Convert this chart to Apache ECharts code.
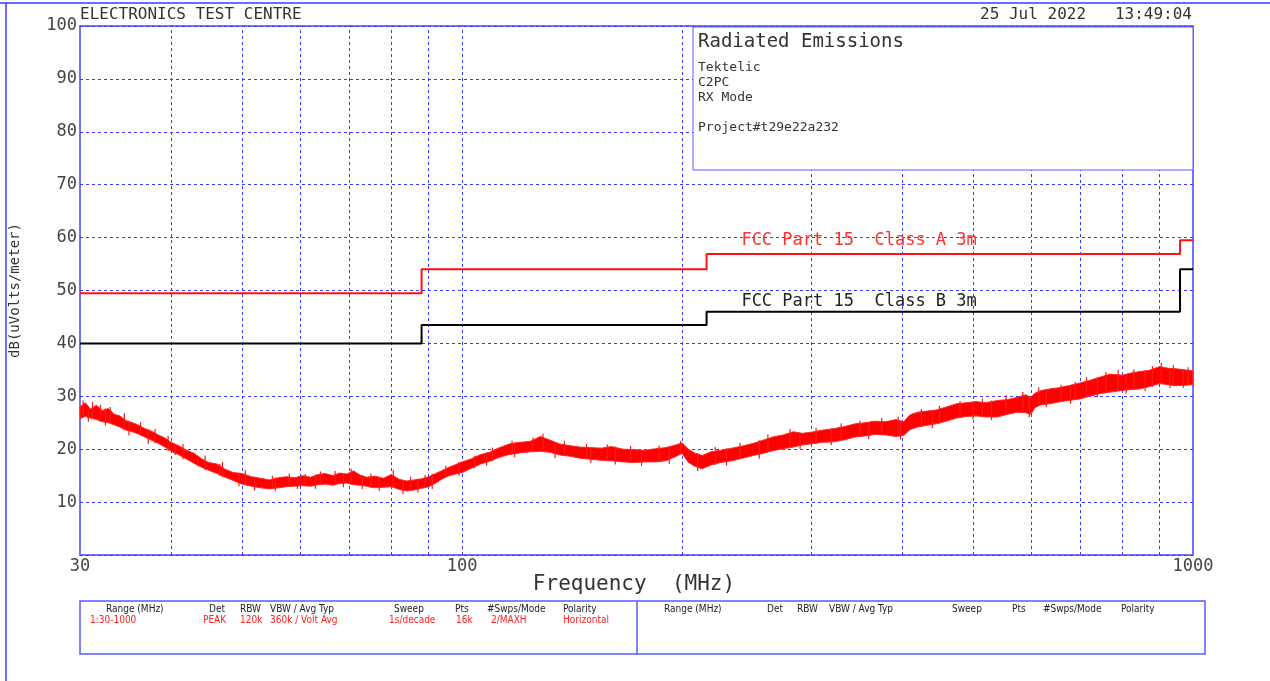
<!DOCTYPE html>
<html>
<head>
<meta charset="utf-8">
<script src="https://cdn.jsdelivr.net/npm/echarts@6/dist/echarts.min.js"></script>
<style>html,body{margin:0;padding:0;background:#fff}#c{width:1270px;height:681px}</style>
</head>
<body>
<div id="c"></div>
<script>
// ---------- data ----------
const yTicks = [0,10,20,30,40,50,60,70,80,90,100];
const xTickLabels = [30, 100, 1000];
const vGridFreq = [40,50,60,70,80,90,100,200,300,400,500,600,700,800,900];

const classAFreq  = [30, 88, 216, 960, 1000];
const classALevel = [49.5, 54, 56.9, 59.5, 59.5];
const classBFreq  = [30, 88, 216, 960, 1000];
const classBLevel = [40, 43.5, 46, 54, 54];

// measured trace: lower / upper envelope of the peak-hold noise
const traceFreq = [30,30.5,31,31.6,32.2,32.8,33.4,34,34.7,35.4,36,36.8,37.6,38.4,39.2,40,41,42,43,44,45,46.2,47.4,48.6,50,51.5,53,54.5,56,57.5,59,60.5,62,63.5,65,66.5,68,69.5,71,72.5,74,76,78,80,82,84,86,88,90,92,94,96,98,100,103,106,109,112,116,120,124,128,132,136,140,145,150,155,160,166,172,178,184,190,196,200,204,208,213,219,226,234,242,250,258,266,275,284,292,300,311,323,334,345,356,367,380,392,402,410,420,432,445,460,475,490,505,520,540,558,575,590,600,608,620,637,654,675,700,722,745,770,800,823,846,870,900,925,948,975,1000];
const traceLow  = [25.8,26.2,25.9,25.6,25.2,25.0,24.6,24.2,23.6,23.3,22.9,22.3,21.7,21.1,20.4,19.6,18.9,18.1,17.3,16.6,16.0,15.4,14.7,14.1,13.4,13.0,12.7,12.5,12.7,12.9,13.0,13.1,13.0,13.3,13.4,13.2,13.5,13.6,13.3,13.2,13.0,12.7,12.8,12.9,12.4,12.1,12.3,12.6,12.9,13.6,14.4,15.0,15.3,15.6,16.4,17.2,17.7,18.4,19.0,19.3,19.5,19.6,19.4,18.9,18.7,18.3,18.1,17.9,17.8,17.6,17.5,17.6,17.6,17.8,18.6,19.2,17.5,16.8,16.3,17.0,17.5,17.8,18.3,18.8,19.2,19.7,20.1,20.4,20.8,21.0,21.3,21.4,21.8,22.3,22.5,22.8,22.7,22.4,22.6,23.7,24.2,24.5,24.8,25.3,25.9,26.2,26.3,26.1,26.1,26.6,27.0,26.9,26.6,27.9,28.4,28.6,28.9,29.2,29.5,30.0,30.5,30.8,31.1,31.3,31.4,31.8,32.4,32.2,32.0,32.1,32.2];
const traceHigh = [28.0,28.8,27.6,28.3,27.3,27.7,26.6,26.3,25.4,25.0,24.6,23.9,23.4,22.7,22.1,21.3,20.6,19.8,19.2,18.2,17.5,17.2,16.2,15.6,15.4,14.8,14.5,14.2,14.6,14.8,14.6,15.0,14.7,15.2,15.4,15.0,15.5,15.3,15.9,15.1,14.7,14.9,14.5,15.2,14.3,14.0,14.2,14.4,14.8,15.4,16.0,16.6,17.1,17.6,18.2,19.0,19.4,20.2,21.0,21.3,21.5,22.4,21.7,21.0,20.7,20.4,20.3,20.2,20.5,20.0,19.9,19.8,20.1,20.3,20.8,21.2,20.0,19.3,18.8,19.5,19.8,20.2,20.6,21.1,21.7,22.3,22.7,23.3,23.0,23.2,23.6,23.9,24.3,24.8,25.0,25.3,25.2,25.6,25.2,26.5,27.0,27.2,27.4,28.0,28.6,28.8,29.0,28.8,29.2,29.4,29.8,30.3,29.8,30.6,31.1,31.4,31.6,32.0,32.5,33.0,33.6,34.2,34.0,34.4,34.7,34.9,35.6,35.3,35.2,35.0,34.8];

// individual noise spikes reaching outside the envelope
const spikeUpFreq = [30.3,31.2,32,33,34.5,36.3,38,39.6,41.5,44.5,47,50.5,55,58,61,64,67,70.5,75,80.5,85,89,95,104,110,117,125,129,138,148,158,170,186,199,222,240,262,281,305,330,350,375,395,425,450,480,515,555,585,615,660,690,715,760,790,830,880,905,940,985];
const spikeUpVal  = [29.2,28.9,28.4,28.0,26.8,25.1,23.8,22.5,21.0,18.8,17.6,16.0,15.0,15.4,15.3,15.8,15.9,16.3,15.4,16.0,14.8,15.1,16.9,18.8,20.3,21.6,22.2,22.9,21.6,21.0,20.9,20.6,20.7,21.6,20.4,21.2,22.8,23.8,24.0,24.9,25.4,25.9,26.2,27.6,28.2,29.1,29.6,30.2,30.8,31.7,32.2,32.7,33.6,34.6,35.0,35.1,35.7,36.3,35.9,35.5];
const spikeDnFreq = [30.8,32.5,35,37.2,40.5,43.5,46.6,49.5,52,55.5,59.5,63,68.8,73,77,83,87,91,99,108,118,134,150,162,176,192,210,230,255,290,320,360,398,440,500,530,597,630,680,740,810,860,930,970];
const spikeDnVal  = [25.2,24.5,22.6,21.0,18.9,16.8,15.0,13.0,12.2,12.1,12.5,12.5,12.8,12.5,12.1,11.5,11.8,12.5,15.0,16.9,18.5,18.3,17.4,17.1,16.8,17.2,15.9,16.9,18.2,20.1,20.8,21.9,21.8,24.0,25.6,25.5,26.0,28.0,28.6,29.8,30.5,31.0,31.5,31.6];

// ---------- build ----------
const limitA = classAFreq.map((f,i)=>[f, classALevel[i]]);
const limitB = classBFreq.map((f,i)=>[f, classBLevel[i]]);
const bandData = traceFreq.map((f,i)=>[f, traceLow[i], traceHigh[i]]);
function nearestIdx(f){ let b=0; for(let i=0;i<traceFreq.length;i++){ if(Math.abs(Math.log(traceFreq[i]/f)) < Math.abs(Math.log(traceFreq[b]/f))) b=i; } return b; }
const spikeData = spikeUpFreq.map((f,i)=>{ const k=nearestIdx(f); return [f, traceLow[k], spikeUpVal[i]]; })
  .concat(spikeDnFreq.map((f,i)=>{ const k=nearestIdx(f); return [f, spikeDnVal[i], traceHigh[k]]; }));

const MONO = '"DejaVu Sans Mono", "Liberation Mono", monospace';
const SMALL = '"Liberation Sans Narrow", "DejaVu Sans Condensed", "Liberation Sans", sans-serif';
const TXT = '#333';
const BLUE = '#3a3aff';

function t(text, x, y, size, color, align, family) {
  return { type:'text', z:120, style:{ text:text, x:x, y:y, font: size+'px '+(family||MONO), fill:color||TXT, align:align||'left', verticalAlign:'middle' } };
}

const hdrs = ['Range (MHz)','Det','RBW','VBW / Avg Typ','Sweep','Pts','#Swps/Mode','Polarity'];
const hdrX1 = [106,209,240,270,394,455,487,563];
const hdrX2 = [664,767,797,829,952,1012,1043,1121];
const vals1 = ['1:30-1000','PEAK','120k','360k / Volt Avg','1s/decade','16k','2/MAXH','Horizontal'];
const valX1 = [90,203,240,270,389,456,491,563];

const graphics = [
  { type:'line', z:120, shape:{x1:0,y1:3,x2:1270,y2:3}, style:{stroke:BLUE, lineWidth:1.5} },
  { type:'line', z:120, shape:{x1:6,y1:3,x2:6,y2:681}, style:{stroke:BLUE, lineWidth:1.5} },
  t('ELECTRONICS TEST CENTRE', 80, 15, 16),
  t('25 Jul 2022   13:49:04', 1192, 15, 16, TXT, 'right'),
  { type:'rect', z:110, shape:{x:693,y:27,width:500,height:143}, style:{fill:'#fff', stroke:'#5a5aff', lineWidth:1} },
  t('Radiated Emissions', 698, 42, 19),
  t('Tektelic', 698, 68, 13),
  t('C2PC', 698, 83, 13),
  t('RX Mode', 698, 98, 13),
  t('Project#t29e22a232', 698, 128, 13),
  t('Frequency  (MHz)', 634, 585, 21, TXT, 'center'),
  { type:'rect', z:110, shape:{x:80,y:601,width:1125,height:53}, style:{fill:'none', stroke:'#5a5aff', lineWidth:1.5} },
  { type:'line', z:110, shape:{x1:637,y1:601,x2:637,y2:654}, style:{stroke:'#5a5aff', lineWidth:1.5} }
];
hdrs.forEach((h,i)=>{ graphics.push(t(h, hdrX1[i], 609, 10, '#222', 'left', SMALL)); graphics.push(t(h, hdrX2[i], 609, 10, '#222', 'left', SMALL)); });
vals1.forEach((v,i)=>{ graphics.push(t(v, valX1[i], 620, 10, '#ff2020', 'left', SMALL)); });

const chart = echarts.init(document.getElementById('c'), null, {renderer:'canvas'});
chart.setOption({
  animation:false,
  backgroundColor:'#fff',
  grid:{ left:80, right:77, top:26, bottom:126, show:true, borderColor:'#7272ff', borderWidth:2, backgroundColor:'transparent' },
  xAxis:{
    type:'log', logBase:10, min:30, max:1000,
    axisLine:{show:false}, axisTick:{show:false}, splitLine:{show:false},
    axisLabel:{ color:'#444', fontFamily:MONO, fontSize:17, margin:3,
      formatter: v => { const r = Math.round(v); return xTickLabels.indexOf(r) >= 0 ? String(r) : ''; } }
  },
  yAxis:{
    type:'value', min:0, max:100, interval:10,
    name:'dB(uVolts/meter)', nameLocation:'middle', nameGap:58, nameRotate:90,
    nameTextStyle:{ color:TXT, fontFamily:MONO, fontSize:14 },
    axisLine:{show:false}, axisTick:{show:false},
    splitLine:{ show:true, lineStyle:{ color:BLUE, type:[3,3], width:1 } },
    axisLabel:{ color:'#444', fontFamily:MONO, fontSize:17, margin:3,
      formatter: v => (v === 0 ? '' : String(v)) }
  },
  series:[
    { name:'vgrid', type:'line', data:[], z:1, silent:true,
      markLine:{ z:1, silent:true, symbol:['none','none'], label:{show:false},
        lineStyle:{ color:BLUE, type:[3,3], width:1 }, emphasis:{disabled:true},
        data: vGridFreq.map(f => ({ xAxis:f })) } },
    { name:'trace', type:'custom', z:3, silent:true,
      data: bandData,
      encode:{ x:0, y:[1,2] },
      renderItem: function (params, api) {
        if (params.dataIndex !== 0) return null;
        const up = [], dn = [];
        for (let i = 0; i < bandData.length; i++) {
          up.push(api.coord([bandData[i][0], bandData[i][2]]));
          dn.push(api.coord([bandData[i][0], bandData[i][1]]));
        }
        const pts = up.concat(dn.reverse());
        return { type:'polygon', shape:{ points:pts }, style:{ fill:'#ff0000', stroke:'#ff2a2a', lineWidth:1 } };
      } },
    { name:'spikes', type:'custom', z:3, silent:true,
      data: spikeData,
      encode:{ x:0, y:[1,2] },
      renderItem: function (params, api) {
        const a = api.coord([api.value(0), api.value(1)]);
        const b = api.coord([api.value(0), api.value(2)]);
        return { type:'line', shape:{ x1:a[0], y1:a[1], x2:b[0], y2:b[1] }, style:{ stroke:'#ff1a1a', lineWidth:1.2 } };
      } },
    { name:'FCC Part 15  Class A 3m', type:'line', step:'end', data:limitA, symbol:'none', z:4, silent:true,
      lineStyle:{ color:'#ff1010', width:2 },
      markPoint:{ symbol:'circle', symbolSize:0.1, silent:true,
        label:{ show:true, position:'right', distance:0, formatter:'FCC Part 15  Class A 3m', color:'#ff3030', fontFamily:MONO, fontSize:17 },
        data:[{ coord:[241, 59.4] }] } },
    { name:'FCC Part 15  Class B 3m', type:'line', step:'end', data:limitB, symbol:'none', z:4, silent:true,
      lineStyle:{ color:'#000', width:2 },
      markPoint:{ symbol:'circle', symbolSize:0.1, silent:true,
        label:{ show:true, position:'right', distance:0, formatter:'FCC Part 15  Class B 3m', color:'#222', fontFamily:MONO, fontSize:17 },
        data:[{ coord:[241, 48.0] }] } }
  ],
  graphic: graphics
});
</script>
</body>
</html>
